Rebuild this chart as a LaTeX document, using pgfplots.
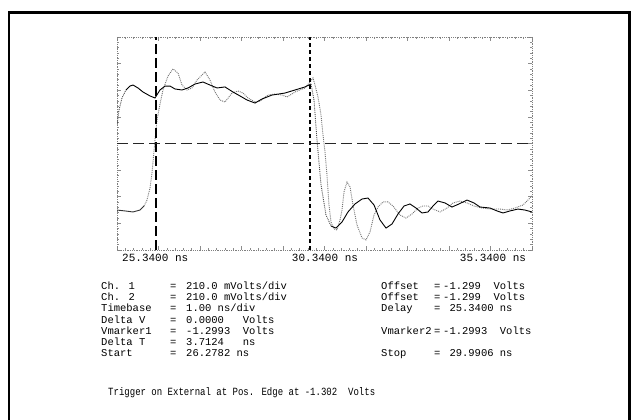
\documentclass[border=0pt]{standalone}
\usepackage{pgfplots}
\pgfplotsset{compat=1.18}
\usepackage{fontspec}
\setmainfont{Liberation Sans}
\newfontfamily\plt{Liberation Mono}
\newcommand{\pf}{\plt\fontsize{11}{12}\selectfont}
\newcommand{\pg}{\plt\fontsize{10.5}{12}\selectfont}
\begin{document}
\begin{tikzpicture}[x=1pt,y=1pt]
\useasboundingbox (0,0) rectangle (638,420);
\fill[white] (0,0) rectangle (638,420);
\draw[line width=2.6pt] (9,-5) -- (9,407.5) -- (629.5,407.5) -- (629.5,-5);
\begin{axis}[at={(117pt,170pt)}, anchor=south west, width=415pt, height=213pt, scale only axis,
  xmin=25.34, xmax=35.34, ymin=-2.139, ymax=-0.459,
  xtick={25.34,26.34,27.34,28.34,29.34,30.34,31.34,32.34,33.34,34.34,35.34},
  ytick={-2.139,-1.929,-1.719,-1.509,-1.299,-1.089,-0.879,-0.669,-0.459},
  minor x tick num=4, minor y tick num=4,
  xticklabels={}, yticklabels={},
  tick align=inside, major tick length=4pt, minor tick length=2pt,
  tick style={black!45, line width=0.5pt},
  axis line style={black!50, densely dotted, line width=0.8pt},
]
% channel 2 (light, strong ringing)
\addplot[black!80, line width=0.9pt] coordinates {
(25.340,-1.824) (25.533,-1.831) (25.726,-1.839) (25.894,-1.824) (25.991,-1.792)};
\addplot[black!55, densely dotted, line width=0.9pt] coordinates {
(25.991,-1.792) (26.063,-1.745) (26.135,-1.650) (26.183,-1.532) (26.256,-1.271) (26.304,-1.114)
(26.376,-0.988) (26.448,-0.877) (26.569,-0.767) (26.689,-0.711) (26.810,-0.743) (26.906,-0.838)
(27.027,-0.877) (27.147,-0.861) (27.268,-0.798) (27.460,-0.735) (27.581,-0.798) (27.701,-0.893)
(27.822,-0.956) (27.942,-0.972) (28.111,-0.901) (28.256,-0.885) (28.376,-0.901) (28.497,-0.940)
(28.665,-0.972) (28.786,-0.964) (28.979,-0.917) (29.147,-0.909) (29.316,-0.917) (29.436,-0.932)
(29.629,-0.893) (29.870,-0.861) (29.991,-0.814) (30.063,-0.782) (30.111,-0.838) (30.183,-0.932)
(30.256,-1.074) (30.304,-1.232) (30.352,-1.366) (30.400,-1.547) (30.448,-1.784) (30.497,-1.918)
(30.569,-1.973) (30.641,-1.981) (30.714,-1.902) (30.762,-1.824) (30.810,-1.681) (30.882,-1.603)
(30.955,-1.642) (31.027,-1.784) (31.123,-1.942) (31.244,-2.044) (31.340,-2.060) (31.436,-1.997)
(31.533,-1.863) (31.629,-1.800) (31.750,-1.760) (31.870,-1.760) (31.991,-1.792) (32.159,-1.863)
(32.304,-1.887) (32.448,-1.855) (32.593,-1.808) (32.714,-1.792) (32.834,-1.792) (32.955,-1.816)
(33.123,-1.839) (33.292,-1.808) (33.436,-1.768) (33.605,-1.753) (33.774,-1.768) (33.942,-1.792)
(34.135,-1.808) (34.328,-1.816) (34.569,-1.816) (34.738,-1.824) (34.930,-1.808) (35.123,-1.784)
(35.244,-1.745) (35.340,-1.713)};
% channel 1 (dark)
\addplot[black!70, densely dotted, line width=0.9pt] coordinates {
(25.340,-1.153) (25.388,-1.035) (25.460,-0.940) (25.557,-0.877)};
\addplot[black, line width=0.9pt] coordinates {
(25.557,-0.877) (25.653,-0.846) (25.726,-0.838) (25.846,-0.861) (25.967,-0.893) (26.135,-0.924)
(26.256,-0.940) (26.376,-0.877) (26.497,-0.846) (26.617,-0.846) (26.738,-0.869) (26.906,-0.877)
(27.051,-0.861) (27.220,-0.830) (27.412,-0.814) (27.581,-0.838) (27.750,-0.861) (27.942,-0.853)
(28.135,-0.893) (28.304,-0.924) (28.473,-0.956) (28.665,-0.980) (28.834,-0.948) (29.075,-0.917)
(29.388,-0.901) (29.629,-0.877) (29.870,-0.853) (30.015,-0.830)};
\addplot[black!70, densely dotted, line width=0.9pt] coordinates {
(30.015,-0.830) (30.087,-0.956) (30.159,-1.271) (30.256,-1.626) (30.376,-1.863) (30.497,-1.950)};
\addplot[black, line width=0.9pt] coordinates {
(30.497,-1.950) (30.617,-1.966) (30.762,-1.918) (30.906,-1.839) (31.075,-1.776) (31.244,-1.737)
(31.388,-1.729) (31.533,-1.784) (31.677,-1.902) (31.822,-1.966) (31.967,-1.934) (32.111,-1.855)
(32.256,-1.792) (32.400,-1.776) (32.545,-1.808) (32.689,-1.847) (32.834,-1.839) (32.955,-1.792)
(33.075,-1.753) (33.244,-1.768) (33.412,-1.800) (33.581,-1.776) (33.774,-1.745) (33.942,-1.768)
(34.087,-1.800) (34.328,-1.808) (34.497,-1.831) (34.641,-1.847) (34.810,-1.831) (35.003,-1.816)
(35.171,-1.824) (35.340,-1.839)};
% markers
\addplot[black, line width=1.3pt, dash pattern=on 10pt off 4pt] coordinates {(26.2782,-2.139) (26.2782,-0.459)};
\addplot[black, line width=1.2pt, dash pattern=on 4pt off 3pt] coordinates {(29.9906,-2.139) (29.9906,-0.459)};
\addplot[black!85, line width=1.3pt, dash pattern=on 11pt off 5pt] coordinates {(25.34,-1.2993) (35.34,-1.2993)};
\end{axis}
% time labels
\node[anchor=base west, inner sep=0, font=\pf] at (122,158.5) {25.3400 ns};
\node[anchor=base, inner sep=0, font=\pf] at (325,158.5) {30.3400 ns};
\node[anchor=base, inner sep=0, font=\pf] at (493,158.5) {35.3400 ns};
% left column
\begin{scope}[every node/.style={anchor=base west, inner sep=0, font=\pg}]
\node at (101,130.4) {Ch. 1};      \node at (170,130.4) {=}; \node at (186,130.4) {210.0 mVolts/div};
\node at (101,119.4) {Ch. 2};      \node at (170,119.4) {=}; \node at (186,119.4) {210.0 mVolts/div};
\node at (101,108.4) {Timebase};   \node at (170,108.4) {=}; \node at (186,108.4) {1.00 ns/div};
\node at (101,96.9)  {Delta V};    \node at (170,96.9)  {=}; \node at (186,96.9)  {0.0000\ \ \ Volts};
\node at (101,85.4)  {Vmarker1};   \node at (170,85.4)  {=}; \node at (186,85.4)  {-1.2993\ \ Volts};
\node at (101,74.4)  {Delta T};    \node at (170,74.4)  {=}; \node at (186,74.4)  {3.7124\ \ \ ns};
\node at (101,63.4)  {Start};      \node at (170,63.4)  {=}; \node at (186,63.4)  {26.2782 ns};
% right column
\node at (381,130.4) {Offset};     \node at (434,130.4) {=}; \node at (443,130.4) {-1.299\ \ Volts};
\node at (381,119.4) {Offset};     \node at (434,119.4) {=}; \node at (443,119.4) {-1.299\ \ Volts};
\node at (381,108.4) {Delay};      \node at (434,108.4) {=}; \node at (443,108.4) {\ 25.3400 ns};
\node at (381,85.4)  {Vmarker2};   \node at (434,85.4)  {=}; \node at (443,85.4)  {-1.2993\ \ Volts};
\node at (381,63.4)  {Stop};       \node at (434,63.4)  {=}; \node at (443,63.4)  {\ 29.9906 ns};
\end{scope}
\node[anchor=base west, inner sep=0, font=\pf] at (108,24.4) {\scalebox{0.82}[1]{Trigger on External at Pos. Edge at -1.302\ \ Volts}};
\end{tikzpicture}
\end{document}
